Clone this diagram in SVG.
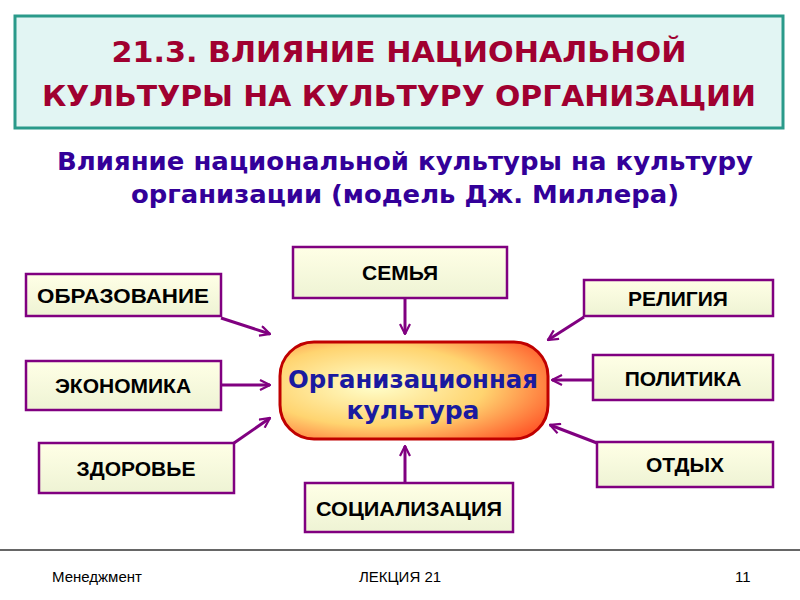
<svg xmlns="http://www.w3.org/2000/svg" width="800" height="600" viewBox="0 0 800 600">
<defs>
<linearGradient id="bx" x1="0" y1="0" x2="0" y2="1"><stop offset="0" stop-color="#ffffe6"/><stop offset="1" stop-color="#eef3d4"/></linearGradient>
<radialGradient id="cg" cx="0.35" cy="0.45" r="0.75"><stop offset="0" stop-color="#ffffcc"/><stop offset="0.55" stop-color="#ffd470"/><stop offset="1" stop-color="#ff5a2a"/></radialGradient>
<marker id="ah" viewBox="0 0 12 12" refX="11" refY="6" markerWidth="12" markerHeight="12" markerUnits="userSpaceOnUse" orient="auto"><path d="M1,1 L11,6 L1,11" fill="none" stroke="#800080" stroke-width="2.2"/></marker>
</defs>
<style>
.b{fill:url(#bx);stroke:#800080;stroke-width:2.5}
.t{font-family:"Liberation Sans",Arial,sans-serif;font-weight:bold;font-size:21px;text-anchor:middle;fill:#000}
.c line{stroke:#800080;stroke-width:3;marker-end:url(#ah)}
.f{font-family:"Liberation Sans",Arial,sans-serif;font-size:15px;fill:#000}
</style>
<rect width="800" height="600" fill="#fff"/>
<g id="title">
<rect x="15" y="16" width="768" height="112" fill="#e2f5f3" stroke="#2a9a8a" stroke-width="3"/>
<text x="399" y="62" font-family="'DejaVu Sans',sans-serif" font-weight="bold" font-size="29" fill="#a00030" text-anchor="middle" textLength="575" lengthAdjust="spacingAndGlyphs">21.3. ВЛИЯНИЕ НАЦИОНАЛЬНОЙ</text>
<text x="399" y="106" font-family="'DejaVu Sans',sans-serif" font-weight="bold" font-size="29" fill="#a00030" text-anchor="middle" textLength="714" lengthAdjust="spacingAndGlyphs">КУЛЬТУРЫ НА КУЛЬТУРУ ОРГАНИЗАЦИИ</text>
</g>
<g id="subtitle" font-family="'DejaVu Sans',sans-serif" font-weight="bold" font-size="25" fill="#330099" text-anchor="middle">
<text x="405" y="170" textLength="696" lengthAdjust="spacingAndGlyphs">Влияние национальной культуры на культуру</text>
<text x="405" y="203" textLength="548" lengthAdjust="spacingAndGlyphs">организации (модель Дж. Миллера)</text>
</g>
<g class="c" id="connectors">
<line x1="221" y1="318" x2="270" y2="334"/>
<line x1="405" y1="298" x2="405" y2="334"/>
<line x1="584" y1="317" x2="548" y2="340"/>
<line x1="221" y1="385" x2="270" y2="385"/>
<line x1="593" y1="380" x2="552" y2="380"/>
<line x1="234" y1="443" x2="270" y2="418"/>
<line x1="597" y1="443" x2="550" y2="425"/>
<line x1="405" y1="483" x2="405" y2="446"/>
</g>
<g id="center">
<rect x="280" y="342" width="268" height="97" rx="34" fill="url(#cg)" stroke="#c00000" stroke-width="3"/>
<text x="413" y="388" font-family="'DejaVu Sans',sans-serif" font-weight="bold" font-size="25" fill="#1a1aa0" text-anchor="middle" textLength="250" lengthAdjust="spacingAndGlyphs">Организационная</text>
<text x="413" y="419" font-family="'DejaVu Sans',sans-serif" font-weight="bold" font-size="25" fill="#1a1aa0" text-anchor="middle">культура</text>
</g>
<g id="n1"><rect class="b" x="26" y="274" width="195" height="42"/><text class="t" x="123" y="303" textLength="172" lengthAdjust="spacingAndGlyphs">ОБРАЗОВАНИЕ</text></g>
<g id="n2"><rect class="b" x="293" y="247" width="214" height="51"/><text class="t" x="400" y="280">СЕМЬЯ</text></g>
<g id="n3"><rect class="b" x="584" y="280" width="189" height="36"/><text class="t" x="678" y="306">РЕЛИГИЯ</text></g>
<g id="n4"><rect class="b" x="26" y="361" width="195" height="49"/><text class="t" x="123" y="393">ЭКОНОМИКА</text></g>
<g id="n5"><rect class="b" x="593" y="355" width="180" height="45"/><text class="t" x="683" y="386">ПОЛИТИКА</text></g>
<g id="n6"><rect class="b" x="39" y="443" width="195" height="50"/><text class="t" x="136" y="476">ЗДОРОВЬЕ</text></g>
<g id="n7"><rect class="b" x="597" y="442" width="176" height="45"/><text class="t" x="685" y="472">ОТДЫХ</text></g>
<g id="n8"><rect class="b" x="305" y="483" width="208" height="49"/><text class="t" x="409" y="516" textLength="186" lengthAdjust="spacingAndGlyphs">СОЦИАЛИЗАЦИЯ</text></g>
<g id="footer">
<line x1="0" y1="550" x2="800" y2="550" stroke="#333" stroke-width="1.5"/>
<text class="f" x="52" y="582">Менеджмент</text>
<text class="f" x="400" y="582" text-anchor="middle">ЛЕКЦИЯ 21</text>
<text class="f" x="735" y="582">11</text>
</g>
</svg>
